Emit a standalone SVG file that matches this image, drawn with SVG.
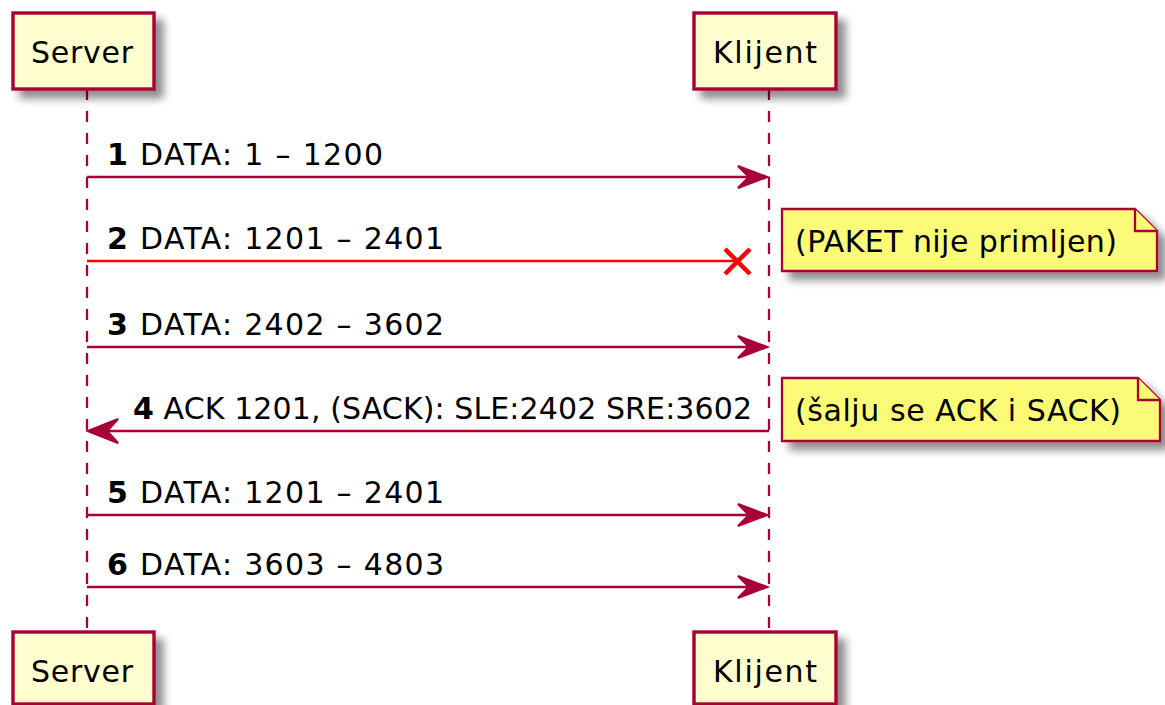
<svg xmlns="http://www.w3.org/2000/svg" width="1165" height="705" viewBox="0 0 1165 705">
<style>
text{font-family:"DejaVu Sans",sans-serif;fill:#000}
.part rect{fill:#FEFECE;stroke:#A80036;stroke-width:3.4}
.part text{font-size:30px}
.life{stroke:#A80036;stroke-width:2.3;stroke-dasharray:11,11;fill:none}
.msg{stroke:#A80036;stroke-width:2.3;fill:none}
.head{fill:#A80036;stroke:#A80036;stroke-width:2.3}
.lost{stroke:#FF0000;stroke-width:2.3;fill:none}
.x{stroke:#FF0000;stroke-width:4.5;fill:none}
.lbl{font-size:30px}
.note path{fill:#FBFB77;stroke:#A80036;stroke-width:2.3}
.note text{font-size:30px}
</style>
<defs>
<filter id="sh" x="-10%" y="-10%" width="130%" height="150%">
<feGaussianBlur in="SourceAlpha" stdDeviation="4"/>
<feOffset dx="8" dy="8" result="b"/>
<feComponentTransfer><feFuncA type="linear" slope="0.45"/></feComponentTransfer>
<feMerge><feMergeNode/><feMergeNode in="SourceGraphic"/></feMerge>
</filter>
</defs>
<rect width="1165" height="705" fill="#fff"/>
<g id="lifelines">
<line class="life" x1="87" y1="89" x2="87" y2="632"/>
<line class="life" x1="769" y1="89" x2="769" y2="632"/>
</g>
<g id="server-top" class="part"><rect x="13" y="13" width="141" height="76" filter="url(#sh)"/><text x="31" y="63" textLength="102" lengthAdjust="spacing">Server</text></g>
<g id="klijent-top" class="part"><rect x="694" y="13" width="142" height="76" filter="url(#sh)"/><text x="713" y="63" textLength="104" lengthAdjust="spacing">Klijent</text></g>
<g id="server-bottom" class="part"><rect x="13" y="632" width="141" height="72" filter="url(#sh)"/><text x="31" y="682" textLength="102" lengthAdjust="spacing">Server</text></g>
<g id="klijent-bottom" class="part"><rect x="694" y="632" width="142" height="72" filter="url(#sh)"/><text x="713" y="682" textLength="104" lengthAdjust="spacing">Klijent</text></g>
<g id="connectors">
<line class="msg" x1="87" y1="177" x2="765" y2="177"/>
<polygon class="head" points="767,177 738,166 749,177 738,188"/>
<text class="lbl" x="107" y="165" textLength="276" lengthAdjust="spacing"><tspan font-weight="bold">1</tspan> DATA: 1 – 1200</text>
<line class="lost" x1="87" y1="261" x2="737" y2="261"/>
<path class="x" d="M725,249 L750,274 M750,249 L725,274"/>
<text class="lbl" x="107" y="249" textLength="337" lengthAdjust="spacing"><tspan font-weight="bold">2</tspan> DATA: 1201 – 2401</text>
<line class="msg" x1="87" y1="347" x2="765" y2="347"/>
<polygon class="head" points="767,347 738,336 749,347 738,358"/>
<text class="lbl" x="107" y="335" textLength="337" lengthAdjust="spacing"><tspan font-weight="bold">3</tspan> DATA: 2402 – 3602</text>
<line class="msg" x1="89" y1="431" x2="769" y2="431"/>
<polygon class="head" points="88,431 118,419 107,431 118,443"/>
<text class="lbl" x="133" y="419" textLength="619" lengthAdjust="spacing"><tspan font-weight="bold">4</tspan> ACK 1201, (SACK): SLE:2402 SRE:3602</text>
<line class="msg" x1="87" y1="515" x2="765" y2="515"/>
<polygon class="head" points="767,515 738,504 749,515 738,526"/>
<text class="lbl" x="107" y="503" textLength="337" lengthAdjust="spacing"><tspan font-weight="bold">5</tspan> DATA: 1201 – 2401</text>
<line class="msg" x1="87" y1="587" x2="765" y2="587"/>
<polygon class="head" points="767,587 738,576 749,587 738,598"/>
<text class="lbl" x="107" y="575" textLength="337" lengthAdjust="spacing"><tspan font-weight="bold">6</tspan> DATA: 3603 – 4803</text>
</g>
<g id="note1" class="note"><path d="M782,209 L1135,209 L1157,231 L1157,271 L782,271 Z" filter="url(#sh)"/><path d="M1135,209 L1135,231 L1157,231"/><text x="795" y="252" textLength="322" lengthAdjust="spacing">(PAKET nije primljen)</text></g>
<g id="note2" class="note"><path d="M782,378 L1138,378 L1160,400 L1160,441 L782,441 Z" filter="url(#sh)"/><path d="M1138,378 L1138,400 L1160,400"/><text x="795" y="421" textLength="326" lengthAdjust="spacing">(šalju se ACK i SACK)</text></g>
</svg>
